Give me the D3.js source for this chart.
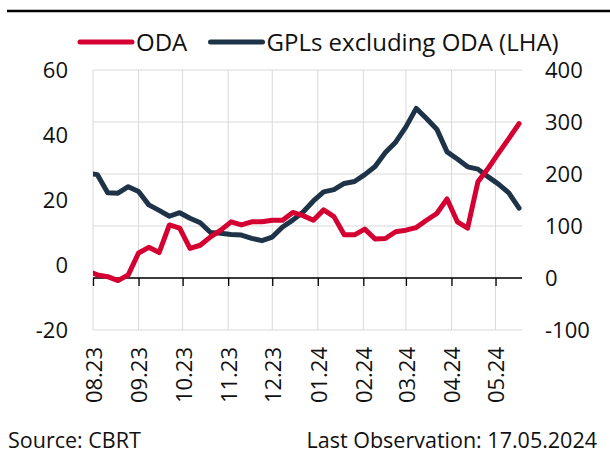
<!DOCTYPE html>
<html>
  <head>
    <meta charset="utf-8">
    <script src="https://cdn.jsdelivr.net/npm/d3@7"></script>
    <style>
      body { margin: 0; background: #fff; }
      text { font-family: "Open Sans", sans-serif; fill: #111; }
    </style>
  </head>
  <body>
    <script>
      // weekly observations (Fridays)
      const dates = [
        "2023-07-28", "2023-08-04", "2023-08-11", "2023-08-18", "2023-08-25",
        "2023-09-01", "2023-09-08", "2023-09-15", "2023-09-22", "2023-09-29",
        "2023-10-06", "2023-10-13", "2023-10-20", "2023-10-27", "2023-11-03",
        "2023-11-10", "2023-11-17", "2023-11-24", "2023-12-01", "2023-12-08",
        "2023-12-15", "2023-12-22", "2023-12-29", "2024-01-05", "2024-01-12",
        "2024-01-19", "2024-01-26", "2024-02-02", "2024-02-09", "2024-02-16",
        "2024-02-23", "2024-03-01", "2024-03-08", "2024-03-15", "2024-03-22",
        "2024-03-29", "2024-04-05", "2024-04-12", "2024-04-19", "2024-04-26",
        "2024-05-03", "2024-05-10", "2024-05-17"
      ];
      // GPLs excluding ODA, left axis
      const gpl = [
        28.3, 27.8, 22.2, 22.1, 24.1, 22.6, 18.5, 16.8, 15.0, 16.1,
        14.4, 13.0, 10.0, 9.8, 9.4, 9.2, 8.2, 7.5, 8.6, 11.7,
        13.8, 16.3, 19.7, 22.5, 23.2, 25.1, 25.7, 27.8, 30.3, 34.6,
        37.8, 42.5, 48.2, 45.1, 41.8, 34.8, 32.6, 30.2, 29.5, 27.1,
        24.9, 22.2, 17.5
      ];
      // ODA, right axis
      const oda = [
        14, 6, 2.5, -5, 6, 48, 59, 49, 102, 96,
        57, 63, 79, 92, 108, 102, 108, 108, 111, 111,
        126, 120, 111, 131, 118, 83, 83, 94, 75, 76,
        89, 92, 97, 111, 124, 152, 108, 96, 185, 211,
        240, 268, 297
      ];
      const leftTicks = [60, 40, 20, 0, -20];
      const rightTicks = [400, 300, 200, 100, 0, -100];
      const monthTicks = [
        "2023-08-01", "2023-09-01", "2023-10-01", "2023-11-01", "2023-12-01",
        "2024-01-01", "2024-02-01", "2024-03-01", "2024-04-01", "2024-05-01"
      ];
      const monthLabels = ["08.23", "09.23", "10.23", "11.23", "12.23",
                           "01.24", "02.24", "03.24", "04.24", "05.24"];

      const width = 610, height = 455;
      const plotLeft = 93, plotRight = 522, plotTop = 70, plotBottom = 330;
      const red = "#d50032", navy = "#1e3348";
      const parse = d3.timeParse("%Y-%m-%d");

      const svg = d3.select("body").append("svg")
          .attr("width", width)
          .attr("height", height);

      const x = d3.scaleTime()
          .domain([parse("2023-08-01"), parse("2024-05-19")])
          .range([plotLeft, plotRight]);
      const yL = d3.scaleLinear().domain([-20, 60]).range([plotBottom, plotTop]);
      const yR = d3.scaleLinear().domain([-100, 400]).range([plotBottom, plotTop]);

      // top rule
      svg.append("line")
          .attr("x1", 7).attr("x2", width)
          .attr("y1", 11).attr("y2", 11)
          .attr("stroke", "#000").attr("stroke-width", 2.5);

      // grid
      svg.append("g").selectAll("line")
          .data(rightTicks)
          .join("line")
          .attr("x1", plotLeft).attr("x2", plotRight)
          .attr("y1", d => yR(d)).attr("y2", d => yR(d))
          .attr("stroke", "#d9d9d9");

      svg.append("g").selectAll("line")
          .data(monthTicks)
          .join("line")
          .attr("x1", d => x(parse(d))).attr("x2", d => x(parse(d)))
          .attr("y1", plotTop).attr("y2", plotBottom)
          .attr("stroke", "#d9d9d9");

      // x axis at zero of right axis
      const xAxis = d3.axisBottom(x)
          .tickValues(monthTicks.map(parse))
          .tickSize(8)
          .tickFormat("");
      const gx = svg.append("g")
          .attr("transform", `translate(0,${yR(0)})`)
          .call(xAxis);
      gx.select(".domain").attr("d", `M${plotLeft},0H${plotRight}`).attr("stroke", "#000").attr("stroke-width", 1.3);
      gx.selectAll(".tick line").attr("stroke", "#000").attr("stroke-width", 1.3);

      // month labels
      svg.append("g").selectAll("text")
          .data(monthTicks)
          .join("text")
          .attr("transform", (d) => `translate(${x(parse(d)) + 1},347) rotate(-90)`)
          .attr("text-anchor", "end")
          .attr("dy", "0.36em")
          .style("font-size", "22px")
          .text((d, i) => monthLabels[i]);

      // y labels
      svg.append("g").selectAll("text")
          .data(leftTicks)
          .join("text")
          .attr("x", 68).attr("y", d => yL(d))
          .attr("dy", "0.36em")
          .attr("text-anchor", "end")
          .style("font-size", "22px")
          .text(d => d);

      svg.append("g").selectAll("text")
          .data(rightTicks)
          .join("text")
          .attr("x", 545).attr("y", d => yR(d))
          .attr("dy", "0.36em")
          .style("font-size", "22px")
          .text(d => d);

      // lines
      svg.append("clipPath").attr("id", "plot")
        .append("rect")
          .attr("x", plotLeft).attr("y", 0)
          .attr("width", plotRight - plotLeft).attr("height", height);

      const points = dates.map((d, i) => ({ date: parse(d), gpl: gpl[i], oda: oda[i] }));

      const lineGpl = d3.line().x(d => x(d.date)).y(d => yL(d.gpl));
      const lineOda = d3.line().x(d => x(d.date)).y(d => yR(d.oda));

      svg.append("path")
          .datum(points)
          .attr("clip-path", "url(#plot)")
          .attr("fill", "none")
          .attr("stroke", navy)
          .attr("stroke-width", 5)
          .attr("stroke-linejoin", "round")
          .attr("stroke-linecap", "round")
          .attr("d", lineGpl);

      svg.append("path")
          .datum(points)
          .attr("clip-path", "url(#plot)")
          .attr("fill", "none")
          .attr("stroke", red)
          .attr("stroke-width", 5)
          .attr("stroke-linejoin", "round")
          .attr("stroke-linecap", "round")
          .attr("d", lineOda);

      // legend
      const legend = [
        { label: "ODA", color: red, x: 80 },
        { label: "GPLs excluding ODA (LHA)", color: navy, x: 210.5 }
      ];
      const lg = svg.append("g").selectAll("g")
          .data(legend)
          .join("g")
          .attr("transform", d => `translate(${d.x},42)`);
      lg.append("line")
          .attr("x1", 0).attr("x2", 52)
          .attr("stroke", d => d.color)
          .attr("stroke-width", 5)
          .attr("stroke-linecap", "round");
      lg.append("text")
          .attr("x", 56)
          .attr("dy", "0.36em")
          .style("font-size", "24px")
          .text(d => d.label);

      // footer
      svg.append("text")
          .attr("x", 8).attr("y", 448)
          .style("font-size", "21.5px")
          .text("Source: CBRT");
      svg.append("text")
          .attr("x", 597).attr("y", 448)
          .attr("text-anchor", "end")
          .style("font-size", "21.5px")
          .text("Last Observation: 17.05.2024");
    </script>
  </body>
</html>
